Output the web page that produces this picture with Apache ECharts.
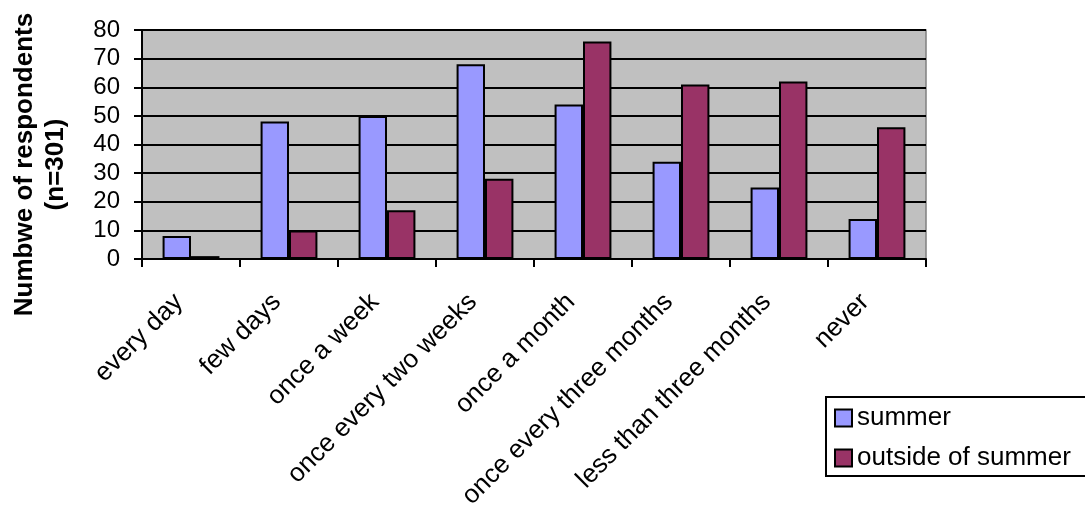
<!DOCTYPE html>
<html>
<head>
<meta charset="utf-8">
<script src="https://cdn.jsdelivr.net/npm/echarts@6/dist/echarts.min.js"></script>
<style>
html,body{margin:0;padding:0;background:#fff;}
#chart{width:1085px;height:506px;}
</style>
</head>
<body>
<div id="chart"></div>
<script>
const categories = ['every day','few days','once a week','once every two weeks','once a month','once every three months','less than three months','never'];
const summer = [8, 48, 50, 68, 54, 34, 25, 14];
const outsideSummer = [1, 10, 17, 28, 76, 61, 62, 46];
const yTicks = [0, 10, 20, 30, 40, 50, 60, 70, 80];

const chart = echarts.init(document.getElementById('chart'), null, {renderer:'canvas'});
const font = 'Liberation Sans, Arial, sans-serif';
chart.setOption({
  animation: false,
  backgroundColor: '#ffffff',
  textStyle: {fontFamily: font},
  grid: {left: 142, right: 159, top: 30, bottom: 247, containLabel: false, outerBoundsMode: 'none', show: true, backgroundColor: '#c0c0c0', borderColor: '#808080', borderWidth: 1.5},
  legend: {
    orient: 'vertical', left: 826, top: 397,
    data: ['summer', 'outside of summer'],
    backgroundColor: '#ffffff', borderColor: '#000', borderWidth: 2,
    padding: [8, 16, 5, 8], itemGap: 14, itemWidth: 17, itemHeight: 17,
    textStyle: {fontSize: 26, color: '#000', fontFamily: font, lineHeight: 26},
    icon: 'rect'
  },
  xAxis: {
    type: 'category', data: categories,
    axisLine: {lineStyle: {color: '#000', width: 2}},
    axisTick: {show: true, length: 8, lineStyle: {color: '#000', width: 2}},
    axisLabel: {rotate: 45, fontSize: 26, color: '#000', margin: 27, interval: 0, fontFamily: font, padding: [0, 17, 0, 0]},
    splitLine: {show: false}
  },
  yAxis: {
    type: 'value', min: yTicks[0], max: yTicks[yTicks.length - 1], interval: 10,
    name: 'Numbwe of respondents\n(n=301)', nameLocation: 'middle', nameGap: 71, nameRotate: 90,
    nameTextStyle: {fontSize: 26, fontWeight: 'bold', color: '#000', lineHeight: 31, fontFamily: font, padding: [0, 40, 0, 0]},
    axisLine: {show: true, lineStyle: {color: '#000', width: 2}},
    axisTick: {show: true, length: 8, lineStyle: {color: '#000', width: 2}},
    axisLabel: {fontSize: 24, color: '#000', margin: 22, fontFamily: font, showMinLabel: true, showMaxLabel: true},
    splitLine: {show: true, lineStyle: {color: '#000', width: 2}}
  },
  series: [
    {name: 'summer', type: 'bar', data: summer, barGap: '0%', barCategoryGap: '42%',
     itemStyle: {color: '#9999ff', borderColor: '#000', borderWidth: 2}},
    {name: 'outside of summer', type: 'bar', data: outsideSummer, barGap: '0%', barCategoryGap: '42%',
     itemStyle: {color: '#993366', borderColor: '#000', borderWidth: 2}}
  ]
});
</script>
</body>
</html>
